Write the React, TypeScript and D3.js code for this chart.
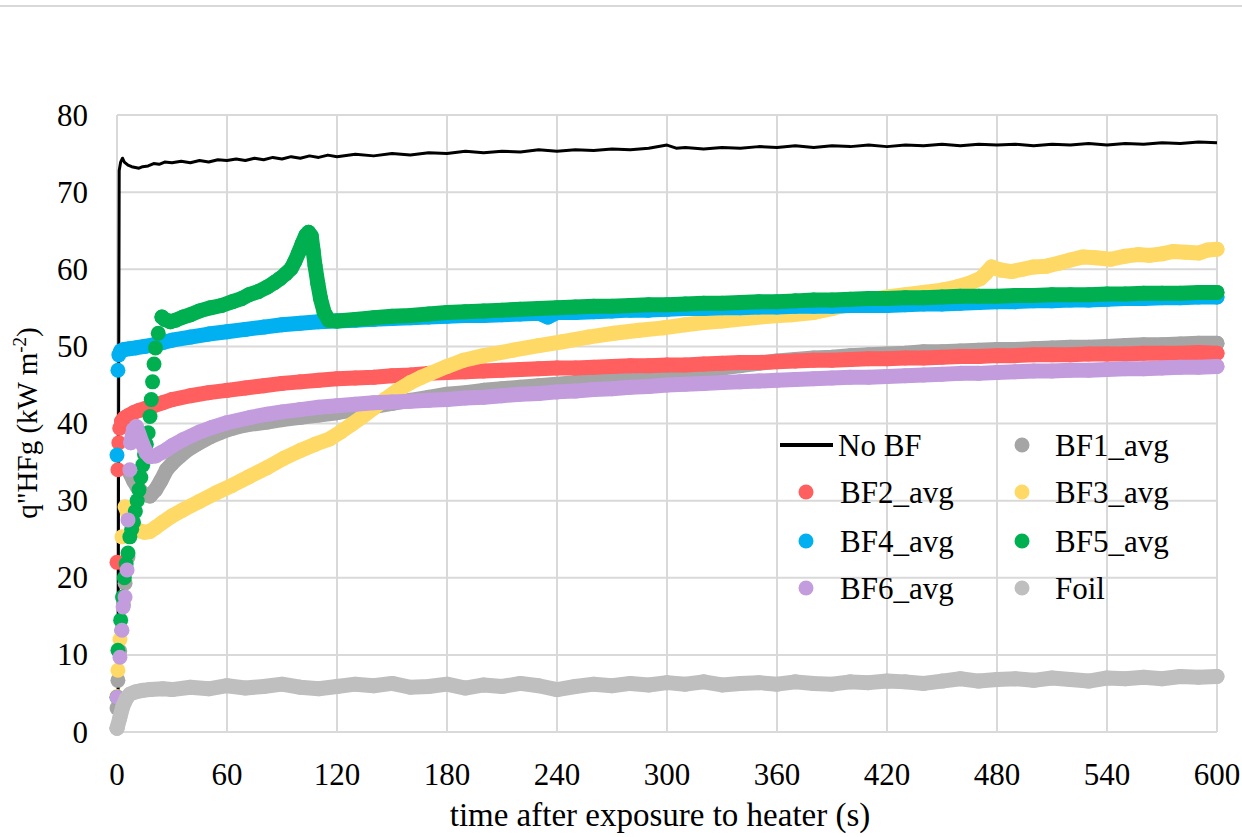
import React from "react";
import * as d3 from "d3";

type Pt = [number, number];

// axis ticks
const xTicks = [0, 60, 120, 180, 240, 300, 360, 420, 480, 540, 600];
const yTicks = [0, 10, 20, 30, 40, 50, 60, 70, 80];

// No BF (solid black line)
const noBF: Pt[] = [[0,0],[0.6,0],[0.9,45],[1.2,72.8],[2,73.9],[3,74.4],[4,73.9],[6,73.5],[8,73.3],[10,73.2],[12,73.1],[14,73.3],[17,73.4],[20,73.7],[23,73.6],[26,73.9],[30,73.8],[35,74.0],[40,73.8],[45,74.1],[50,73.9],[55,74.2],[60,74.1],[65,74.3],[70,74.1],[75,74.4],[80,74.2],[85,74.5],[90,74.3],[95,74.6],[100,74.4],[105,74.7],[110,74.5],[115,74.8],[120,74.6],[130,74.9],[140,74.7],[150,75.0],[160,74.8],[170,75.1],[180,75.0],[190,75.3],[200,75.1],[210,75.3],[220,75.2],[230,75.5],[240,75.3],[250,75.5],[260,75.4],[270,75.6],[280,75.5],[290,75.7],[300,76.1],[305,75.7],[310,75.8],[320,75.6],[330,75.8],[340,75.7],[350,75.9],[360,75.8],[370,76.0],[380,75.8],[390,76.0],[400,75.9],[410,76.1],[420,75.9],[430,76.1],[440,76.0],[450,76.2],[460,76.0],[470,76.2],[480,76.1],[490,76.2],[500,76.0],[510,76.2],[520,76.1],[530,76.3],[540,76.1],[550,76.3],[560,76.2],[570,76.4],[580,76.3],[590,76.5],[600,76.4]];

// BF1_avg
const bf1Dots: Pt[] = [[0,3.1],[0.5,6.7],[1.5,10.5],[2.5,13.2],[3.5,16.5],[4.4,19.3],[6,22.7]];
const bf1: Pt[] = [[7,33.6],[9,32.6],[11,31.8],[13,31.2],[15,30.8],[18,30.6],[21,31.4],[24,32.6],[27,34.0],[30,34.8],[34,35.7],[38,36.5],[44,37.4],[51,38.3],[57,38.9],[63,39.4],[70,39.8],[82,40.2],[90,40.5],[100,40.8],[110,41.1],[120,41.4],[130,41.8],[140,42.2],[150,42.6],[160,43.0],[170,43.4],[180,43.8],[190,44.0],[200,44.3],[210,44.5],[220,44.7],[230,44.9],[240,45.1],[250,45.3],[260,45.5],[270,45.7],[280,45.9],[290,46.1],[300,46.3],[310,46.6],[320,46.9],[330,47.2],[340,47.5],[350,47.8],[360,48.1],[370,48.3],[380,48.5],[390,48.6],[400,48.8],[410,48.9],[420,49.0],[430,49.1],[440,49.3],[450,49.3],[460,49.4],[470,49.5],[480,49.6],[490,49.6],[500,49.7],[510,49.8],[520,49.9],[530,49.9],[540,50.0],[550,50.1],[560,50.2],[570,50.2],[580,50.3],[590,50.4],[600,50.4]];

// BF2_avg
const bf2Dots: Pt[] = [[0,22.0],[0.5,34.0],[1,37.5],[1.5,39.4]];
const bf2: Pt[] = [[2.5,40.3],[4,40.7],[6,41.0],[9,41.4],[12,41.7],[16,42.0],[20,42.3],[25,42.7],[30,43.1],[40,43.6],[50,44.0],[60,44.3],[70,44.6],[80,44.9],[90,45.2],[100,45.4],[110,45.6],[120,45.8],[130,45.9],[140,46.0],[150,46.2],[160,46.3],[170,46.5],[180,46.6],[190,46.7],[200,46.8],[210,46.9],[220,47.0],[230,47.1],[240,47.2],[250,47.2],[260,47.3],[270,47.4],[280,47.5],[290,47.5],[300,47.6],[310,47.6],[320,47.7],[330,47.8],[340,47.9],[350,47.9],[360,48.0],[370,48.1],[380,48.2],[390,48.2],[400,48.3],[410,48.4],[420,48.4],[430,48.5],[440,48.5],[450,48.6],[460,48.7],[470,48.7],[480,48.8],[490,48.8],[500,48.9],[510,48.9],[520,48.9],[530,49.0],[540,49.0],[550,49.0],[560,49.1],[570,49.1],[580,49.1],[590,49.2],[600,49.1]];

// BF3_avg
const bf3Dots: Pt[] = [[0,4.6],[0.5,8.0],[1.6,12.0],[2.7,25.3],[4.4,29.2]];
const bf3: Pt[] = [[5.5,28.6],[7,27.4],[9,26.6],[12,26.1],[15,25.9],[18,26.0],[21,26.5],[25,27.2],[30,28.0],[36,28.8],[45,29.9],[54,31.0],[63,32.0],[72,33.1],[82,34.3],[91,35.5],[100,36.5],[108,37.3],[116,38.0],[122,38.9],[128,39.9],[134,40.9],[140,42.0],[146,43.1],[153,44.3],[160,45.3],[166,46.0],[171,46.5],[180,47.4],[189,48.2],[200,48.8],[216,49.5],[230,50.1],[243,50.6],[257,51.2],[271,51.7],[285,52.1],[298,52.4],[310,52.8],[320,53.1],[330,53.3],[343,53.6],[355,53.9],[368,54.1],[380,54.4],[390,54.9],[400,55.5],[410,56.0],[420,56.4],[430,56.7],[440,57.0],[450,57.3],[458,57.7],[465,58.2],[471,58.8],[474,59.5],[477,60.3],[482,59.9],[488,59.7],[494,60.0],[500,60.3],[507,60.4],[514,60.8],[520,61.2],[527,61.6],[534,61.5],[542,61.3],[550,61.7],[557,61.9],[563,61.8],[570,62.0],[576,62.3],[583,62.2],[590,62.1],[595,62.5],[600,62.6]];

// BF4_avg
const bf4Dots: Pt[] = [[0,35.9],[0.5,46.9],[1,48.9]];
const bf4: Pt[] = [[2,49.4],[4,49.6],[7,49.7],[10,49.8],[15,50.0],[20,50.2],[25,50.5],[30,50.8],[40,51.2],[50,51.6],[60,51.9],[70,52.2],[80,52.5],[90,52.8],[100,53.0],[110,53.2],[120,53.3],[130,53.4],[140,53.5],[150,53.6],[160,53.7],[170,53.8],[180,53.9],[190,54.0],[200,54.0],[210,54.1],[220,54.2],[230,54.3],[235,53.8],[240,54.4],[250,54.4],[260,54.5],[270,54.6],[280,54.7],[290,54.7],[300,54.8],[310,54.9],[320,54.9],[330,55.0],[340,55.0],[350,55.1],[360,55.1],[370,55.2],[380,55.2],[390,55.2],[400,55.3],[410,55.3],[420,55.3],[430,55.4],[440,55.5],[450,55.5],[460,55.6],[470,55.7],[480,55.8],[490,55.8],[500,55.9],[510,55.9],[520,56.0],[530,56.0],[540,56.1],[550,56.2],[560,56.2],[570,56.3],[580,56.3],[590,56.4],[600,56.4]];

// BF5_avg
const bf5Dots: Pt[] = [[0,4.5],[0.5,10.6],[2,14.5],[3,17.5],[4,20.0],[5,21.8],[6,23.2],[7,25.3],[8,26.3],[9,27.2],[10,28.6],[11,30.0],[12,31.4],[13,33.0],[14,34.6],[15,36.0],[16,37.3],[17,38.8],[18,40.9],[18.7,43.1],[19.4,45.4],[20.2,47.7],[21,49.8],[22.5,51.7]];
const bf5: Pt[] = [[24.5,53.8],[26,53.5],[29,53.2],[32,53.4],[36,53.8],[40,54.1],[45,54.6],[51,55.0],[57,55.3],[63,55.8],[68,56.2],[72,56.7],[77,57.1],[82,57.7],[86,58.3],[89,58.8],[92,59.4],[95,60.1],[97,61.0],[99,62.1],[101,63.3],[103,64.4],[104.5,64.8],[106,64.3],[107,62.4],[108,60.5],[109.5,58.2],[111,56.2],[113,54.4],[115.5,53.4],[120,53.3],[130,53.5],[140,53.7],[150,53.9],[160,54.0],[170,54.2],[180,54.4],[190,54.5],[200,54.6],[210,54.7],[220,54.8],[230,54.9],[240,55.0],[250,55.1],[260,55.2],[270,55.2],[280,55.3],[290,55.4],[300,55.4],[310,55.5],[320,55.6],[330,55.6],[340,55.7],[350,55.8],[360,55.8],[370,55.9],[380,56.0],[390,56.0],[400,56.1],[410,56.2],[420,56.2],[430,56.3],[440,56.3],[450,56.4],[460,56.5],[470,56.5],[480,56.5],[490,56.6],[500,56.6],[510,56.7],[520,56.7],[530,56.7],[540,56.8],[550,56.8],[560,56.9],[570,56.9],[580,56.9],[590,57.0],[600,57.0]];

// BF6_avg
const bf6Dots: Pt[] = [[0,4.5],[1.6,9.7],[2.7,13.2],[3.3,16.2],[4.4,17.5],[5.5,21.0],[6,27.5],[7,34.0]];
const bf6: Pt[] = [[7.5,37.5],[9,39.2],[10.5,39.6],[12,38.6],[14,37.3],[16,36.2],[18,35.7],[21,35.8],[24,36.2],[27,36.6],[30,37.1],[36,37.9],[45,38.9],[52,39.5],[60,40.1],[73,40.8],[82,41.2],[90,41.5],[100,41.8],[110,42.1],[120,42.3],[130,42.5],[140,42.7],[150,42.8],[160,42.9],[170,43.0],[180,43.1],[190,43.3],[200,43.4],[210,43.6],[220,43.8],[230,43.9],[240,44.1],[250,44.2],[260,44.4],[270,44.5],[280,44.7],[290,44.8],[300,45.0],[310,45.1],[320,45.2],[330,45.3],[340,45.4],[350,45.5],[360,45.6],[370,45.7],[380,45.8],[390,45.9],[400,46.0],[410,46.0],[420,46.1],[430,46.2],[440,46.3],[450,46.4],[460,46.5],[470,46.5],[480,46.6],[490,46.7],[500,46.8],[510,46.8],[520,46.9],[530,46.9],[540,47.0],[550,47.1],[560,47.1],[570,47.2],[580,47.3],[590,47.3],[600,47.4]];

// Foil
const foilDots: Pt[] = [[0,0.5]];
const foil: Pt[] = [[0,0.5],[1.5,1.8],[3,3.2],[5,4.3],[7,4.9],[10,5.2],[14,5.4],[18,5.5],[25,5.6],[30,5.5],[40,5.8],[50,5.6],[60,6.0],[70,5.7],[80,5.9],[90,6.2],[100,5.8],[110,5.6],[120,5.9],[130,6.2],[140,6.0],[150,6.3],[160,5.8],[170,5.9],[180,6.2],[190,5.7],[200,6.1],[210,5.9],[220,6.3],[230,6.0],[240,5.5],[250,5.9],[260,6.2],[270,6.0],[280,6.3],[290,6.1],[300,6.4],[310,6.2],[320,6.5],[330,6.1],[340,6.3],[350,6.4],[360,6.2],[370,6.5],[380,6.3],[390,6.2],[400,6.5],[410,6.4],[420,6.6],[430,6.5],[440,6.3],[450,6.6],[460,6.9],[470,6.6],[480,6.8],[490,6.9],[500,6.7],[510,7.0],[520,6.8],[530,6.6],[540,7.0],[550,6.9],[560,7.1],[570,6.9],[580,7.2],[590,7.1],[600,7.2]];

const W = 1242, H = 837;
const FONT = "'Liberation Serif', serif";
const GRID = "#d9d9d9";
const R = 7.5;

const dotSeries = [
  { name: "BF1_avg", color: "#a5a5a5", dots: bf1Dots, trace: bf1 },
  { name: "BF2_avg", color: "#ff5f5f", dots: bf2Dots, trace: bf2 },
  { name: "BF3_avg", color: "#ffd966", dots: bf3Dots, trace: bf3 },
  { name: "BF4_avg", color: "#00b0f0", dots: bf4Dots, trace: bf4 },
  { name: "BF5_avg", color: "#00b050", dots: bf5Dots, trace: bf5 },
  { name: "BF6_avg", color: "#c39cde", dots: bf6Dots, trace: bf6 },
  { name: "Foil", color: "#bfbfbf", dots: foilDots, trace: foil },
];

const txt = { fontFamily: FONT };

export default function App() {
  const x = d3.scaleLinear().domain([0, 600]).range([117, 1217]);
  const y = d3.scaleLinear().domain([0, 80]).range([732, 115]);
  const line = d3.line<Pt>().x(d => x(d[0])).y(d => y(d[1]));

  // legend: 2 columns, row-major order
  const legendItems = [{ name: "No BF", color: "#000", kind: "line" }, ...dotSeries.map(s => ({ name: s.name, color: s.color, kind: "dot" }))];
  const rowY = [445, 492, 541, 588];
  const colDot = [806, 1022];
  const colText = [840, 1055];

  return (
    <svg width={W} height={H} style={{ position: "absolute", left: 0, top: 0, background: "#fff" }}>
      <rect x={0} y={0} width={W} height={H} fill="#fff" />
      <line x1={0} x2={W} y1={6} y2={6} stroke={GRID} strokeWidth={2} />

      {/* gridlines */}
      {yTicks.map(t => (
        <line key={"gy" + t} x1={x(0)} x2={x(600)} y1={y(t)} y2={y(t)} stroke={GRID} strokeWidth={2} />
      ))}
      {xTicks.map(t => (
        <line key={"gx" + t} x1={x(t)} x2={x(t)} y1={y(0)} y2={y(80)} stroke={GRID} strokeWidth={2} />
      ))}

      {/* tick labels */}
      {yTicks.map(t => (
        <text key={"ty" + t} x={88} y={y(t) + 10.5} textAnchor="end" fontSize={31} fill="#000" style={txt}>{t}</text>
      ))}
      {xTicks.map(t => (
        <text key={"tx" + t} x={x(t)} y={785} textAnchor="middle" fontSize={31} fill="#000" style={txt}>{t}</text>
      ))}

      {/* axis titles */}
      <text x={660} y={826} textAnchor="middle" fontSize={33} fill="#000" style={txt}>time after exposure to heater (s)</text>
      <text transform="translate(37,423) rotate(-90)" textAnchor="middle" fontSize={29} fill="#000" style={txt}>
        q"HFg (kW m<tspan fontSize={19} dy={-11}>-2</tspan><tspan dy={11}>)</tspan>
      </text>

      {/* No BF line */}
      <path d={line(noBF) || ""} fill="none" stroke="#000" strokeWidth={3} strokeLinejoin="round" />

      {/* dot series */}
      {dotSeries.map(s => (
        <g key={s.name}>
          <path d={line(s.trace) || ""} fill="none" stroke={s.color} strokeWidth={R * 2} strokeLinejoin="round" strokeLinecap="round" />
          {s.trace.map((d, i) => (
            <circle key={"t" + i} cx={x(d[0])} cy={y(d[1])} r={R} fill={s.color} />
          ))}
          {s.dots.map((d, i) => (
            <circle key={"d" + i} cx={x(d[0])} cy={y(d[1])} r={R} fill={s.color} />
          ))}
        </g>
      ))}

      {/* legend */}
      {legendItems.map((it, i) => {
        const row = Math.floor(i / 2), col = i % 2;
        const cy = rowY[row];
        return (
          <g key={"lg" + it.name}>
            {it.kind === "line" ? (
              <line x1={780} x2={833} y1={cy} y2={cy} stroke={it.color} strokeWidth={4} />
            ) : (
              <circle cx={colDot[col]} cy={cy} r={R} fill={it.color} />
            )}
            <text x={it.kind === "line" ? 838 : colText[col]} y={cy + 11} fontSize={31} fill="#000" style={txt}>{it.name}</text>
          </g>
        );
      })}
    </svg>
  );
}
